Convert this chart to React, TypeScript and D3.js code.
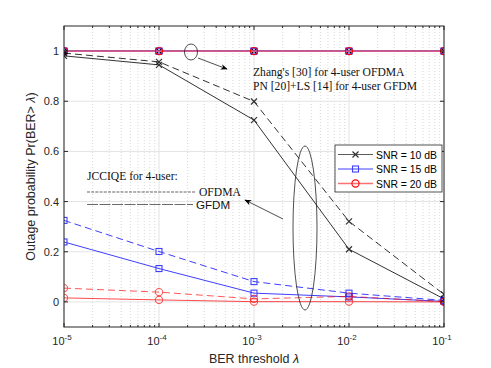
import React from "react";
import * as d3 from "d3";

const lambdas = [1e-5, 1e-4, 1e-3, 1e-2, 1e-1];
// JCCIQE curves, solid = GFDM, dashed = OFDMA
const snr10Gfdm = [0.981, 0.945, 0.725, 0.21, 0.012];
const snr10Ofdma = [0.992, 0.957, 0.799, 0.321, 0.03];
const snr15Gfdm = [0.239, 0.133, 0.035, 0.02, 0.002];
const snr15Ofdma = [0.325, 0.201, 0.081, 0.035, 0.006];
const snr20Gfdm = [0.016, 0.008, 0.001, 0.001, 0];
const snr20Ofdma = [0.055, 0.039, 0.012, 0.022, 0.001];
// reference schemes stay at 1
const baseline = [1, 1, 1, 1, 1];
const yTicks = [0, 0.2, 0.4, 0.6, 0.8, 1];
const xTickExps = [-5, -4, -3, -2, -1];
const legendLabels = ["SNR = 10 dB", "SNR = 15 dB", "SNR = 20 dB"];

const W = 491;
const H = 368;
const left = 64, right = 444, top = 26, bottom = 327;
const axisColor = "#262626";
const sans = "'Liberation Sans', Arial, sans-serif";
const serif = "'Liberation Serif', 'Times New Roman', serif";

const x = d3.scaleLog().domain([1e-5, 1e-1]).range([left, right]);
const y = d3.scaleLinear().domain([-0.1, 1.1]).range([bottom, top]);

const line = d3
  .line<number>()
  .x((d, i) => x(lambdas[i]))
  .y((d) => y(d));

const minorX: number[] = [];
for (let e = -5; e < -1; e++) {
  for (let k = 2; k <= 9; k++) minorX.push(k * Math.pow(10, e));
}

const Marker = ({ type, cx, cy, color }: any) => {
  if (type === "x") {
    const s = 3;
    return (
      <path
        d={`M${cx - s},${cy - s}L${cx + s},${cy + s}M${cx - s},${cy + s}L${cx + s},${cy - s}`}
        stroke={color}
        strokeWidth={1.2}
      />
    );
  }
  if (type === "s") {
    return (
      <rect x={cx - 3} y={cy - 3} width={6} height={6} fill="none" stroke={color} strokeWidth={1.1} />
    );
  }
  return <circle cx={cx} cy={cy} r={3.6} fill="none" stroke={color} strokeWidth={1.1} />;
};

const series = [
  { data: baseline, color: "#000", marker: "x", dash: "none", opacity: 1, lw: 1, mcolor: "#000" },
  { data: baseline, color: "#0000ff", marker: "s", dash: "none", opacity: 1, lw: 1, mcolor: "#0000ff" },
  { data: baseline, color: "#d85a8c", marker: "o", dash: "none", opacity: 1, lw: 1.6, mcolor: "#ff0000" },
  { data: snr10Ofdma, color: "#000", marker: "x", dash: "7,4", opacity: 0.8, lw: 1, mcolor: "#000" },
  { data: snr10Gfdm, color: "#000", marker: "x", dash: "none", opacity: 0.8, lw: 1, mcolor: "#000" },
  { data: snr15Ofdma, color: "#0000ff", marker: "s", dash: "7,4", opacity: 0.75, lw: 1, mcolor: "#0000ff" },
  { data: snr15Gfdm, color: "#0000ff", marker: "s", dash: "none", opacity: 0.75, lw: 1, mcolor: "#0000ff" },
  { data: snr20Ofdma, color: "#ff0000", marker: "o", dash: "7,4", opacity: 0.65, lw: 1, mcolor: "#ff0000" },
  { data: snr20Gfdm, color: "#ff0000", marker: "o", dash: "none", opacity: 0.7, lw: 1, mcolor: "#ff0000" },
];

const legendItems = [
  { color: "#333", marker: "x", opacity: 0.8, mcolor: "#000" },
  { color: "#0000ff", marker: "s", opacity: 0.75, mcolor: "#0000ff" },
  { color: "#ff7070", marker: "o", opacity: 1, mcolor: "#ff0000" },
];

export default function App() {
  return (
    <svg
      width={W}
      height={H}
      style={{ position: "absolute", left: 0, top: 0, background: "#fff" }}
    >
      <defs>
        <clipPath id="plot">
          <rect x={left} y={top} width={right - left} height={bottom - top} />
        </clipPath>
        <marker id="arr" viewBox="0 0 10 10" refX="9" refY="5" markerWidth="10" markerHeight="7" orient="auto" markerUnits="userSpaceOnUse">
          <path d="M0,1 L10,5 L0,9 L3,5 Z" fill="#000" />
        </marker>
      </defs>
      <rect x={left} y={top} width={right - left} height={bottom - top} fill="#fff" />

      {/* grid */}
      {minorX.map((v, i) => (
        <line key={"mx" + i} x1={x(v)} x2={x(v)} y1={top} y2={bottom} stroke="#c8c8c8" strokeWidth={0.7} strokeDasharray="1,2" />
      ))}
      {lambdas.map((v, i) => (
        <line key={"gx" + i} x1={x(v)} x2={x(v)} y1={top} y2={bottom} stroke="#e3e3e3" strokeWidth={1} />
      ))}
      {yTicks.map((v, i) => (
        <line key={"gy" + i} x1={left} x2={right} y1={y(v)} y2={y(v)} stroke="#e3e3e3" strokeWidth={1} />
      ))}

      {/* curves */}
      <g clipPath="url(#plot)">
        {series.map((s, si) => (
          <g key={si} opacity={s.opacity}>
            <path d={line(s.data) || ""} fill="none" stroke={s.color} strokeWidth={s.lw} strokeDasharray={s.dash} />
            {s.data.map((d, i) => (
              <Marker key={i} type={s.marker} cx={x(lambdas[i])} cy={y(d)} color={s.mcolor} />
            ))}
          </g>
        ))}
      </g>

      {/* axes box and ticks */}
      <rect x={left} y={top} width={right - left} height={bottom - top} fill="none" stroke={axisColor} strokeWidth={1} />
      {lambdas.map((v, i) => (
        <g key={"tx" + i}>
          <line x1={x(v)} x2={x(v)} y1={bottom} y2={bottom - 4} stroke={axisColor} />
          <line x1={x(v)} x2={x(v)} y1={top} y2={top + 4} stroke={axisColor} />
        </g>
      ))}
      {minorX.map((v, i) => (
        <g key={"tmx" + i}>
          <line x1={x(v)} x2={x(v)} y1={bottom} y2={bottom - 2} stroke={axisColor} />
          <line x1={x(v)} x2={x(v)} y1={top} y2={top + 2} stroke={axisColor} />
        </g>
      ))}
      {yTicks.map((v, i) => (
        <g key={"ty" + i}>
          <line x1={left} x2={left + 4} y1={y(v)} y2={y(v)} stroke={axisColor} />
          <line x1={right} x2={right - 4} y1={y(v)} y2={y(v)} stroke={axisColor} />
          <text x={left - 5} y={y(v) + 4} textAnchor="end" fontFamily={sans} fontSize={11} fill={axisColor}>
            {String(v)}
          </text>
        </g>
      ))}
      {xTickExps.map((e, i) => (
        <text key={"xl" + i} x={x(lambdas[i]) - 2} y={345} textAnchor="middle" fontFamily={sans} fontSize={11} fill={axisColor}>
          10
          <tspan fontSize={8} dy={-5}>{String(e)}</tspan>
        </text>
      ))}
      <text x={(left + right) / 2} y={363} textAnchor="middle" fontFamily={sans} fontSize={12.5} fill={axisColor}>
        BER threshold <tspan fontStyle="italic">λ</tspan>
      </text>
      <text
        transform={`translate(35,${(top + bottom) / 2}) rotate(-90)`}
        textAnchor="middle"
        fontFamily={sans}
        fontSize={12.5}
        fill={axisColor}
      >
        Outage probability Pr(BER&gt; <tspan fontStyle="italic">λ</tspan>)
      </text>

      {/* legend */}
      <rect x={335} y={145} width={107} height={47} fill="#fff" stroke={axisColor} strokeWidth={0.8} />
      {legendItems.map((d, i) => {
        const ly = 154.5 + i * 14.5;
        return (
          <g key={"lg" + i}>
            <g opacity={d.opacity}>
              <line x1={338} x2={373} y1={ly} y2={ly} stroke={d.color} strokeWidth={i === 2 ? 1.5 : 1} />
              <Marker type={d.marker} cx={355.5} cy={ly} color={d.mcolor} />
            </g>
            <text x={376} y={ly + 4} fontFamily={sans} fontSize={10.4} fill="#000">
              {legendLabels[i]}
            </text>
          </g>
        );
      })}

      {/* annotations */}
      <ellipse cx={191} cy={52} rx={6.5} ry={8} fill="none" stroke="#222" strokeWidth={0.8} />
      <line x1={198} y1={58} x2={227} y2={69} stroke="#222" strokeWidth={0.8} markerEnd="url(#arr)" />
      <text x={253} y={76} fontFamily={serif} fontSize={11.6} fill="#111">
        Zhang's [30] for 4-user OFDMA
      </text>
      <text x={253} y={90} fontFamily={serif} fontSize={11.6} fill="#111">
        PN [20]+LS [14] for 4-user GFDM
      </text>

      <ellipse cx={305} cy={228} rx={12} ry={82} fill="none" stroke="#222" strokeWidth={0.8} />
      <line x1={283} y1={219} x2={245} y2={200} stroke="#222" strokeWidth={0.8} markerEnd="url(#arr)" />

      <text x={87} y={180} fontFamily={serif} fontSize={11.6} fill="#111">
        JCCIQE for 4-user:
      </text>
      <line x1={87} x2={196} y1={192} y2={192} stroke="#222" strokeWidth={0.7} strokeDasharray="3,1.2" />
      <text x={199} y={195.5} fontFamily={serif} fontSize={11.6} fill="#111">
        OFDMA
      </text>
      <line x1={87} x2={193} y1={204.5} y2={204.5} stroke="#444" strokeWidth={0.8} strokeDasharray="11,1.5" />
      <text x={196} y={209} fontFamily={sans} fontSize={11.6} fill="#111">
        GFDM
      </text>
    </svg>
  );
}
